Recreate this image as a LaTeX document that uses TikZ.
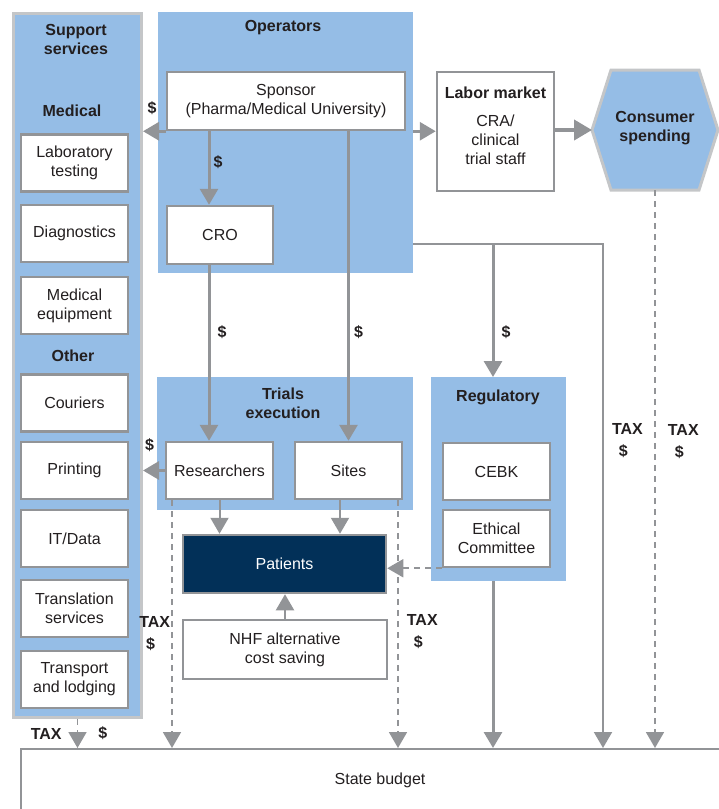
\documentclass[tikz,border=0pt]{standalone}
\usepackage{fontspec}
\setmainfont{Liberation Sans}
\usetikzlibrary{positioning,arrows.meta}

\definecolor{panelblue}{RGB}{149,189,230}
\definecolor{linegray}{RGB}{146,148,151}
\definecolor{framegray}{RGB}{196,198,200}
\definecolor{navy}{RGB}{2,48,88}
\definecolor{ink}{RGB}{35,31,32}

\begin{document}
\begin{tikzpicture}[
x=1pt,
y=-1pt,
every node/.style={
  font=\fontsize{16}{19}\selectfont,
  text=ink
  },
panel/.style={
  fill=panelblue,
  draw=none,
  anchor=north west,
  inner sep=0pt
  },
box/.style={
  draw=linegray,
  fill=white,
  line width=2.5pt,
  minimum width=107pt,
  minimum height=57pt,
  align=center,
  inner sep=2pt
  },
head/.style={
  font=\fontsize{16}{19}\selectfont\bfseries,
  align=center
  },
lbl/.style={
  font=\fontsize{16}{22}\selectfont\bfseries,
  align=center,
  inner sep=1pt
  },
flow/.style={
  draw=linegray,
  line width=3pt,
  -{Triangle[width=18pt 0,length=16pt 0]}
  },
thinflow/.style={
  draw=linegray,
  line width=2pt,
  -{Triangle[width=18pt 0,length=16pt 0]}
  },
bigflow/.style={
  draw=linegray,
  line width=4pt,
  -{Triangle[width=20pt 0,length=18pt 0]}
  },
dashflow/.style={
  draw=linegray,
  line width=1.8pt,
  dash pattern=on 6pt off 5pt,
  -{Triangle[width=18pt 0,length=16pt 0]}
  }
]
\useasboundingbox (0,0) rectangle (719,809);

% support services column
\node[panel, draw=framegray, line width=3pt, minimum width=128pt, minimum height=704pt] (support) at (12,12) {};
\node[head] (supporttitle) at (76,39) {Support\\services};
\node[head] (medical) at (72,111) {Medical};
\node[head] (other) at (73,356) {Other};
\foreach \nm/\yy/\txt in {lab/163/{Laboratory\\testing}, diag/233.5/Diagnostics, equip/305.5/{Medical\\equipment}, courier/403/Couriers, printing/470.5/Printing, itdata/538.5/{IT/Data}, transl/608.5/{Translation\\services}, lodging/679.5/{Transport\\and lodging}}
  \node[box] (\nm) at (74.5,\yy) {\txt};

% operators
\node[panel, minimum width=255pt, minimum height=261pt] (operators) at (158,12) {};
\node[head] (optitle) at (283,28) {Operators};
\node[box, minimum width=238pt, minimum height=58pt] (sponsor) at (286,101) {Sponsor\\(Pharma/Medical University)};
\node[box, minimum width=106pt, minimum height=58pt] (cro) at (220,235) {CRO};

% labor market and consumer spending
\node[box, minimum width=117pt, minimum height=119pt] (labor) at (495.5,131.5) {};
\node[align=center] (labortext) at (495.5,126) {\textbf{Labor market}\\[9pt]CRA/\\clinical\\trial staff};
\draw[draw=framegray, line width=3pt, fill=panelblue] (592,130) -- (611,70) -- (699,70) -- (718,130) -- (699,190) -- (611,190) -- cycle;
\node[head] (consumer) at (655,128) {Consumer\\spending};
\coordinate (conwest) at (592,130);
\coordinate (consouth) at (655,190);

% trials execution
\node[panel, minimum width=256pt, minimum height=133pt] (trials) at (157,377) {};
\node[head] (trialstitle) at (283,403) {Trials\\execution};
\node[box] (researchers) at (219.5,470.5) {Researchers};
\node[box] (sites) at (348.5,470.5) {Sites};

% regulatory
\node[panel, minimum width=135pt, minimum height=204pt] (regulatory) at (431,377) {};
\node[head] (regtitle) at (498,397) {Regulatory};
\node[box] (cebk) at (496.5,471.5) {CEBK};
\node[box] (ethical) at (496.5,538.5) {Ethical\\Committee};

% patients
\node[box, fill=navy, text=white, minimum width=203pt, minimum height=58pt] (patients) at (284.5,564) {Patients};
\node[box, minimum width=204pt, minimum height=59pt] (nhf) at (285,649.5) {NHF alternative\\cost saving};

% state budget
\node[box, line width=2pt, anchor=north west, minimum width=718pt, minimum height=62pt] (budget) at (20,748) {State budget};

\coordinate (crodrop) at (209,0);
\coordinate (sitesdrop) at (340,0);
\coordinate (opsplit) at (413,244);
\coordinate (regsplit) at (493,244);
\coordinate (taxcorner) at (603,244);

% money flows
\draw[flow] (sponsor.south west) -- (support.east |- sponsor.south) node[lbl, pos=0.6, above=14pt] (d1) {\$};
\draw[flow] (crodrop |- sponsor.south) -- (crodrop |- cro.north) node[lbl, pos=0.42, right=2pt] (d2) {\$};
\draw[flow] (crodrop |- cro.south) -- (crodrop |- researchers.north) node[lbl, pos=0.38, right=6pt] (d3) {\$};
\draw[flow] (sites.north |- sponsor.south) -- (sites.north) node[lbl, pos=0.65, right=3pt] (d4) {\$};
\draw[flow] (operators.east |- sponsor.south) -- (labor.west |- sponsor.south);
\draw[bigflow] (labor.east |- conwest) -- (conwest);
\draw[flow] (researchers.west) -- (support.east |- researchers.west) node[lbl, pos=0.7, above=16pt] (d5) {\$};
\draw[thinflow] (researchers.south) -- (patients.north -| researchers.south);
\draw[thinflow] (sitesdrop |- sites.south) -- (sitesdrop |- patients.north);
\draw[thinflow] (nhf.north) -- (patients.south -| nhf.north);
\draw[dashflow] (ethical.south west) -- (patients.east |- ethical.south west);
\draw[line width=2pt, draw=linegray] (opsplit) -- (regsplit);
\draw[flow] (regsplit) -- (regsplit |- regulatory.north) node[lbl, pos=0.66, right=6pt] (d6) {\$};

% taxes to the state budget
\draw[thinflow] (regsplit) -- (taxcorner) -- (taxcorner |- budget.north) node[lbl, pos=0.39, right=7pt] (tx3) {TAX\\\$\kern8pt};
\draw[dashflow] (consouth) -- (consouth |- budget.north) node[lbl, pos=0.45, right=11pt] (tx4) {TAX\\\$\kern8pt};
\draw[dashflow] (support.south) -- (support.south |- budget.north) node[lbl, pos=0.5, left=14pt] (tx0) {TAX} node[lbl, pos=0.5, right=19pt] (d0) {\$};
\draw[dashflow] (172,0 |- researchers.south) -- (172,0 |- budget.north) node[lbl, pos=0.54, left=0pt] (tx1) {TAX\\\$\kern8pt};
\draw[dashflow] (398,0 |- sites.south) -- (398,0 |- budget.north) node[lbl, pos=0.53, right=7pt] (tx2) {TAX\\\$\kern8pt};
\draw[flow] (regulatory.south -| regsplit) -- (regsplit |- budget.north);
\end{tikzpicture}
\end{document}
